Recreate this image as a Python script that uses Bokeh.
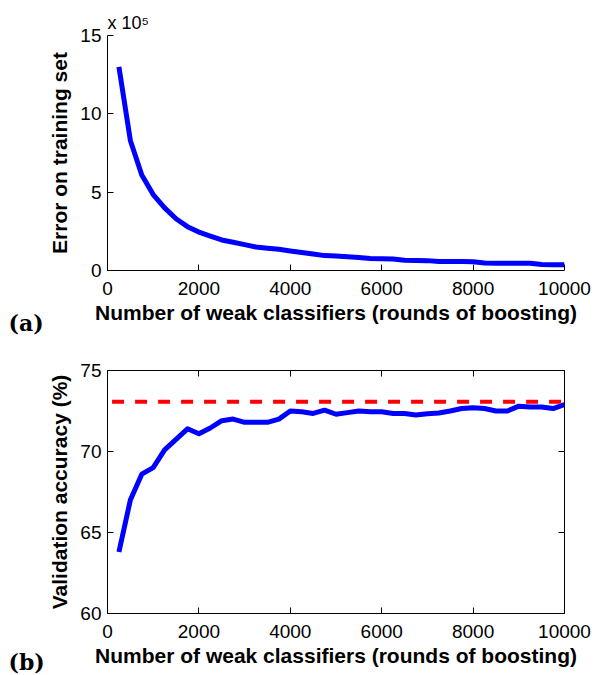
from bokeh.plotting import figure
from bokeh.layouts import column
from bokeh.models import Range1d, FixedTicker, LinearAxis, Title, ColumnDataSource
from bokeh.embed import file_html
from bokeh.resources import INLINE

# ---- data ----
rounds = [250 * k for k in range(1, 41)]
train_error_x1e5 = [13.0, 8.3, 6.1, 4.85, 4.0, 3.3, 2.8, 2.45, 2.2, 1.95,
                    1.8, 1.65, 1.5, 1.42, 1.35, 1.25, 1.15, 1.05, 0.95, 0.93,
                    0.88, 0.83, 0.76, 0.75, 0.74, 0.65, 0.64, 0.63, 0.57, 0.57,
                    0.57, 0.56, 0.48, 0.47, 0.47, 0.47, 0.46, 0.38, 0.37, 0.37]
val_acc = [63.8, 67.0, 68.6, 69.0, 70.1, 70.75, 71.4, 71.1, 71.45, 71.9,
           72.0, 71.8, 71.8, 71.8, 72.0, 72.5, 72.45, 72.35, 72.55, 72.3,
           72.4, 72.5, 72.45, 72.45, 72.35, 72.35, 72.25, 72.33, 72.38, 72.5,
           72.65, 72.7, 72.65, 72.5, 72.5, 72.8, 72.75, 72.75, 72.65, 72.9]
baseline_x = [100, 10000]
baseline_acc = [73.07, 73.07]

x_ticks = [0, 2000, 4000, 6000, 8000, 10000]
y1_ticks = [0, 5, 10, 15]
y2_ticks = [60, 65, 70, 75]
x_label = "Number of weak classifiers (rounds of boosting)"
y1_label = "Error on training set"
y2_label = "Validation accuracy (%)"
y1_scale_text = "x 10\u2075"

FONT = "Liberation Sans"
TICK_SIZE = "19px"
LABEL_SIZE = "21px"


def style_axis(ax, ticks, label=None, show_labels=True):
    ax.ticker = FixedTicker(ticks=ticks)
    ax.minor_tick_line_color = None
    ax.major_tick_in = 6
    ax.major_tick_out = 0
    ax.axis_line_color = "black"
    ax.axis_line_width = 1
    ax.major_tick_line_color = "black"
    ax.major_label_text_font = FONT
    ax.major_label_text_color = "black"
    if show_labels:
        ax.major_label_text_font_size = TICK_SIZE
    else:
        ax.major_label_text_font_size = "0px"
        ax.major_label_standoff = 0
    if label:
        ax.axis_label = label
        ax.axis_label_text_font = FONT
        ax.axis_label_text_font_size = LABEL_SIZE
        ax.axis_label_text_font_style = "bold"
        ax.axis_label_text_color = "black"


def panel_tag(text, standoff):
    return Title(text=text, align="left", offset=-99, standoff=standoff,
                 vertical_align="top",
                 text_font="DejaVu Serif", text_font_size="22px",
                 text_font_style="bold", text_color="black")


# ---- top panel ----
p1 = figure(width=602, height=335, output_backend="svg",
            toolbar_location=None,
            x_range=Range1d(0, 10000), y_range=Range1d(0, 15),
            min_border_left=107, min_border_right=38, min_border_top=35,
            min_border_bottom=65)
p1.grid.visible = False
p1.outline_line_color = None
style_axis(p1.xaxis[0], x_ticks, x_label)
style_axis(p1.yaxis[0], y1_ticks, y1_label)
p1.xaxis.major_label_standoff = 11
p1.xaxis.axis_label_standoff = 3
p1.yaxis.major_label_standoff = 6
p1.yaxis.axis_label_standoff = 6

src1 = ColumnDataSource(dict(x=rounds, y=train_error_x1e5))
p1.line("x", "y", source=src1, line_color="#0000FF", line_width=5,
        line_join="round")

p1.add_layout(Title(text=y1_scale_text, align="left", offset=0, standoff=6,
                    text_font=FONT, text_font_size="18px",
                    text_font_style="normal", text_color="black"), "above")
p1.add_layout(panel_tag("(a)", -34), "below")

# ---- bottom panel ----
p2 = figure(width=602, height=339, output_backend="svg",
            toolbar_location=None,
            x_range=Range1d(0, 10000), y_range=Range1d(60, 75),
            min_border_left=107, min_border_right=38, min_border_top=35,
            min_border_bottom=61)
p2.grid.visible = False
p2.outline_line_color = "black"
p2.outline_line_width = 1
style_axis(p2.xaxis[0], x_ticks, x_label)
style_axis(p2.yaxis[0], y2_ticks, y2_label)
p2.xaxis.major_label_standoff = 11
p2.xaxis.axis_label_standoff = 3
p2.yaxis.major_label_standoff = 6
p2.yaxis.axis_label_standoff = 6
top_ax = LinearAxis()
style_axis(top_ax, x_ticks, show_labels=False)
p2.add_layout(top_ax, "above")
right_ax = LinearAxis()
style_axis(right_ax, y2_ticks, show_labels=False)
p2.add_layout(right_ax, "right")

src2 = ColumnDataSource(dict(x=rounds, y=val_acc))
p2.line("x", "y", source=src2, line_color="#0000FF", line_width=5,
        line_join="round")
p2.line(baseline_x, baseline_acc, line_color="#FF0000", line_width=4,
        line_dash="12 11")
p2.add_layout(panel_tag("(b)", -42), "below")

layout = column(p1, p2, spacing=0)
open("out.html", "w").write(file_html(layout, INLINE))
